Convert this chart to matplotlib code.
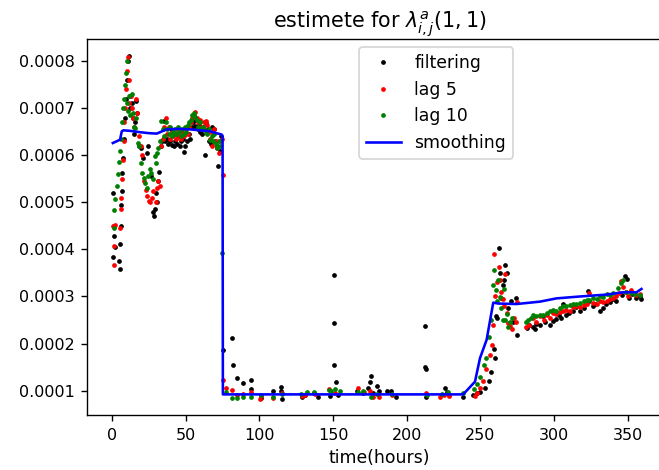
import matplotlib
matplotlib.use("Agg")
import matplotlib.pyplot as plt
import numpy as np

plt.rcParams["xtick.labelsize"] = 9.3
plt.rcParams["ytick.labelsize"] = 9.3

# values are in units of 1e-4
# filtering estimate
t_filt = [0.8, 1.0, 0.9, 1.6, 2.2, 4.8, 5.2, 5.4, 5.8, 6.2, 6.6, 7.0, 7.4, 8.2, 9.0, 9.6,
          10.2, 10.8, 11.3, 11.9, 12.5, 13.3, 14.0, 14.6, 15.4, 16.2, 17.0, 18.0,
          19.5, 21.0, 23.5, 24.6, 26.5, 28.0, 28.6, 29.2, 30.0, 30.6, 31.3, 32.0, 33.0,
          34.0, 35.0, 36.0,
          37, 38, 39, 40, 41, 42, 43, 44, 45, 46, 47, 48, 49, 49.8, 51, 52, 53, 54, 55,
          56, 57, 58, 59, 60, 61, 62, 63, 64, 65, 66, 67, 68, 69, 70, 71, 72, 73, 74,
          75.5, 81.2, 81.9, 85, 89, 94, 94.2, 101, 109, 114.7, 114.9, 115.5, 129, 131,
          137, 139.5, 148, 150.6, 150.6, 150.6, 152, 153, 166.5, 170, 174, 175, 176,
          177, 180, 181, 186.5, 189, 192.4, 212.3, 212.5, 212.9, 213, 226, 227, 229,
          237.9, 245, 248, 250,
          253, 255.5, 257, 259.2, 259.6, 260.5, 261.5, 262.6, 263.5, 264, 265, 266,
          267, 268, 269, 270.5, 272, 274, 275, 281.3, 283, 285.5, 287, 288, 290.3,
          292.6, 294, 297, 299, 301.5, 303, 304.5, 306.2, 308.4, 310, 312.9, 315,
          317.5, 320, 323.1, 324, 326.5, 328, 331, 333.3, 335, 337.8, 340, 342, 346,
          348.3, 349.3, 351, 353, 355.9, 358.2, 359]
v_filt = [5.2, 4.28, 3.83, 4.5, 4.05, 3.75, 3.58, 4.12, 4.5, 4.95, 5.25, 5.62, 5.95, 6.35,
          6.8, 7.2, 7.6, 8.0, 8.1, 7.0, 7.25, 7.1, 6.8, 6.45, 6.7, 7.15, 6.9, 6.2,
          6.15, 5.95, 6.05, 6.2, 5.55, 4.8, 4.7, 4.85, 5.2, 5.0, 5.45, 5.65, 6.2,
          6.3, 6.72, 6.3,
          6.35, 6.25, 6.3, 6.55, 6.22, 6.2, 6.3, 6.25, 6.4, 6.2, 6.3, 6.35, 6.08, 6.2,
          6.3, 6.45, 6.35, 6.6, 6.7, 6.62, 6.75, 6.55, 6.65, 6.5, 6.45, 6.6, 6.0, 6.68,
          6.55, 6.3, 6.25, 6.6, 6.55, 6.3, 6.2, 5.77, 6.1, 6.4,
          1.86, 2.11, 1.55, 1.26, 1.16, 1.23, 1.03, 0.85, 1.0, 1.08, 1.0, 0.82, 0.86,
          0.9, 0.94, 0.87, 0.88, 3.45, 2.43, 1.55, 1.19, 0.9, 0.99, 0.95, 1.06, 1.18,
          1.31, 0.96, 1.1, 0.99, 1.0, 1.0, 0.86, 2.38, 1.51, 1.47, 0.86, 1.05, 0.97,
          0.9, 0.86, 0.9, 0.95, 0.98,
          1.05, 1.2, 1.4, 1.89, 1.7, 2.59, 2.55, 4.04, 3.5, 2.96, 3.25, 3.35, 3.66,
          3.5, 2.75, 2.9, 2.45, 2.96, 2.18, 2.33, 2.4, 2.35, 2.3, 2.42, 2.4, 2.58,
          2.45, 2.4, 2.48, 2.52, 2.6, 2.55, 2.84, 2.61, 2.65, 2.7, 2.78, 2.7, 2.75,
          3.12, 2.9, 2.8, 2.85, 2.7, 2.75, 2.85, 2.89, 2.95, 2.9, 3.03, 3.43, 3.38,
          2.96, 3.05, 2.96, 3.0, 2.95]

# fixed-lag smoothing, lag 5
t_lag5 = [0.8, 1.5, 1.3, 2.0, 5.2, 5.9, 6.4, 6.9, 7.4, 7.9, 8.4, 9.0, 9.6, 10.2, 10.7,
          11.2, 11.8, 12.6, 13.4, 14.2, 15.0, 16.0, 17.0, 18.0,
          19.5, 20.5, 22, 23, 24, 25, 26, 27, 28, 29.5, 30.5, 31.5, 32.5, 33.5, 34.5,
          35.5, 36.5,
          37.5, 38.5, 39.5, 40.5, 41.5, 42.5, 43.5, 44.5, 45.5, 46.5, 47.5, 48.5, 49.5,
          50.5, 51.5, 52.5, 53.5, 54.5, 55.5, 56.3, 57.5, 58.5, 59.5, 60.5, 61.5, 62.5,
          63.5, 64.5, 65.5, 66.5, 67.5, 68.5, 69.5, 70.5, 71.5, 72.5, 73.5, 74.5, 75.1,
          75.5, 77, 81.1, 85, 89, 94, 100.4, 101, 109, 115, 129, 131, 138, 147, 151,
          167, 171, 175, 177.3, 181, 190, 213, 222.5, 225, 229, 246, 247.5,
          250, 252, 254, 256.4, 257.6, 258.2, 259.4, 260, 261, 262.8, 263.5, 264, 265,
          266, 267, 268, 268.6, 270, 271.5, 273, 274, 275, 281, 283, 285.5, 288,
          290.3, 293, 295, 297, 299.3, 301.5, 304, 306, 308.4, 310.5, 312.9, 315,
          317.5, 320, 322, 324, 326.5, 329, 331, 333, 335.6, 338, 340, 342, 344.2,
          345.3, 346.5, 349, 350, 352.5, 355.9, 358]
v_lag5 = [4.5, 4.08, 3.67, 4.52, 4.45, 4.85, 5.1, 5.5, 5.9, 6.3, 6.7, 7.0, 7.4, 7.8, 8.08,
          7.6, 7.1, 7.25, 7.0, 6.8, 6.6, 7.2, 6.9, 6.4,
          6.2, 6.0, 5.45, 5.27, 5.13, 5.02, 5.0, 5.1, 5.25, 5.0, 5.3, 5.45, 5.34, 6.2,
          6.35, 6.6, 6.8,
          6.45, 6.6, 6.35, 6.5, 6.4, 6.45, 6.35, 6.5, 6.42, 6.35, 6.5, 6.4, 6.45, 6.55,
          6.45, 6.6, 6.7, 6.8, 6.85, 6.92, 6.8, 6.7, 6.75, 6.6, 6.55, 6.7, 6.72, 6.65,
          6.5, 6.35, 6.19, 6.45, 6.55, 6.3, 6.16, 6.05, 6.3, 6.35, 5.59,
          1.23, 1.05, 1.01, 0.91, 0.92, 0.98, 0.82, 0.88, 0.84, 0.95, 0.88, 0.9, 0.92,
          1.03, 0.95, 1.05, 0.98, 0.99, 0.87, 0.86, 0.9, 0.95, 0.86, 0.9, 0.88, 0.88,
          0.95,
          1.05, 1.2, 1.45, 1.76, 1.97, 2.4, 3.9, 3.0, 3.3, 3.62, 3.35, 3.1, 2.95, 2.8,
          3.48, 2.65, 2.43, 2.38, 2.3, 2.55, 2.45, 2.89, 2.36, 2.4, 2.54, 2.45, 2.58,
          2.5, 2.6, 2.55, 2.65, 2.62, 2.68, 2.7, 2.72, 2.7, 2.77, 2.8, 2.78, 2.82,
          2.84, 3.08, 2.87, 2.85, 2.9, 2.88, 2.9, 2.95, 2.96, 3.0, 3.07, 3.32, 3.21,
          3.1, 3.0, 3.14, 3.03, 3.05]

# fixed-lag smoothing, lag 10
t_lag10 = [1.2, 1.4, 2.0, 3.2, 4.3, 5.0, 5.7, 6.3, 7.0, 7.6, 8.2, 8.8, 9.4, 10.0, 10.4,
           11.0, 11.6, 12.4, 13.3, 14.0, 14.8, 15.6, 16.5, 17.5,
           18.5, 19.5, 20.5, 21.5, 22.5, 23.5, 24.5, 25.5, 26.5, 27.5, 29.0, 29.8, 30.5,
           31.5, 32.5, 33.5, 34.5, 35.5, 36.5,
           37.5, 38.5, 39.5, 40.5, 41.5, 42.5, 43.5, 44.5, 45.5, 46.5, 47.5, 48.5, 49.5,
           50.5, 51.5, 52.5, 53.5, 54.5, 55.5, 56.5, 57.5, 58.5, 59.5, 60.5, 61.5, 62.5,
           63.5, 64.5, 65.5, 66.5, 67.5, 68.5, 69.5, 70.5, 71.5, 72.5, 73.5, 74.4,
           77, 81.5, 85, 89, 94, 101, 109.5, 115, 128, 132, 137, 147, 148.5, 151.5, 155,
           167, 170, 176, 180, 190, 213.5, 224, 228, 238, 245.7, 248,
           250, 252.5, 254, 256, 257, 258.5, 259.4, 260.3, 261, 262, 263, 264, 265, 266,
           267, 268, 269, 270, 271.5, 281, 282.4, 284, 286, 288, 290.3, 292.5, 295, 297,
           299.3, 301.5, 304, 306, 308, 310.5, 313, 315, 317.5, 320, 322, 324, 326.5,
           329, 331, 333, 335.6, 338, 340, 343.5, 345.3, 346.5, 349, 352.5, 355, 358.2]
v_lag10 = [4.84, 4.45, 5.07, 5.35, 5.6, 5.85, 6.1, 6.35, 6.7, 7.0, 7.2, 7.5, 7.75, 8.0, 7.1,
           6.95, 7.25, 6.85, 7.3, 6.9, 6.6, 6.58, 6.8, 6.26,
           6.2, 5.84, 5.62, 5.52, 5.41, 5.3, 5.55, 5.7, 5.62, 5.5, 5.98, 5.84, 6.05,
           6.15, 6.3, 6.72, 6.55, 6.4, 6.7,
           6.55, 6.45, 6.6, 6.4, 6.5, 6.55, 6.45, 6.6, 6.5, 6.4, 6.55, 6.45, 6.6,
           6.5, 6.65, 6.7, 6.75, 6.85, 6.9, 6.82, 6.75, 6.6, 6.7, 6.55, 6.6, 6.55,
           6.5, 6.45, 6.55, 6.33, 6.4, 6.3, 6.45, 6.23, 6.16, 6.3, 6.2, 3.92,
           0.98, 0.84, 0.84, 0.86, 0.87, 0.9, 0.87, 0.93, 0.93, 0.98, 0.97, 1.02, 0.99,
           1.03, 0.99, 0.97, 1.0, 0.87, 0.93, 0.93, 0.9, 0.92, 0.97, 0.96, 1.03, 1.15,
           1.3, 1.55, 1.69, 2.13, 2.5, 3.25, 3.57, 3.13, 2.9, 3.35, 2.98, 2.75, 2.5,
           3.15, 2.49, 2.62, 2.36, 2.45, 2.55, 2.45, 2.5, 2.55, 2.6, 2.58, 2.61, 2.6,
           2.65, 2.7, 2.72, 2.7, 2.75, 2.8, 2.79, 2.82, 2.84, 2.83, 2.87, 2.9, 2.93,
           2.92, 2.96, 2.95, 3.0, 2.98, 3.05, 3.04, 3.07, 3.18, 3.28, 3.35, 3.1, 3.07,
           3.05, 3.03]

# full smoothing estimate
t_smooth = [0.5, 5.4, 6.6, 7.7, 12, 19, 25, 30.3, 37, 45, 52.9, 60, 66.5, 72, 74.4, 75.0,
            75.2, 100, 150, 200, 238.3, 246.3, 249.7, 254.2, 258.7, 262, 274.5, 290.3,
            301.7, 317.5, 335.6, 346.9, 355.9, 359.3]
v_smooth = [6.26, 6.33, 6.51, 6.53, 6.52, 6.49, 6.47, 6.46, 6.55, 6.56, 6.55, 6.53, 6.51,
            6.46, 6.44, 6.4, 0.92, 0.92, 0.92, 0.92, 0.92, 1.19, 1.69, 2.08, 2.87, 2.85,
            2.84, 2.89, 2.96, 3.0, 3.04, 3.09, 3.09, 3.16]

scale = 1e-4
dpi = 124

fig = plt.figure(figsize=(659 / dpi, 470 / dpi), dpi=dpi)
# the right spine sits just past the edge of the canvas, as in the reference crop
ax = fig.add_axes([0.1316, 0.116, 0.889, 0.802])

ax.plot(t_filt, np.array(v_filt) * scale, ".", color="black", markersize=3.5, label="filtering")
ax.plot(t_lag5, np.array(v_lag5) * scale, ".", color="red", markersize=3.5, label="lag 5")
ax.plot(t_lag10, np.array(v_lag10) * scale, ".", color="green", markersize=3.5, label="lag 10")
ax.plot(t_smooth, np.array(v_smooth) * scale, color="blue", linewidth=1.5, label="smoothing")

ax.set_xlim(-17.2, 380.4)
ax.set_ylim(0.0000472, 0.000848)
ax.set_xticks([0, 50, 100, 150, 200, 250, 300, 350])

ax.set_xlabel("time(hours)")
ax.set_title(r"estimete for $\lambda^a_{i,j}(1,1)$")
ax.legend(loc="upper left", bbox_to_anchor=(0.4652, 0.9767), borderaxespad=0)

fig.savefig("out.png", dpi=dpi)
